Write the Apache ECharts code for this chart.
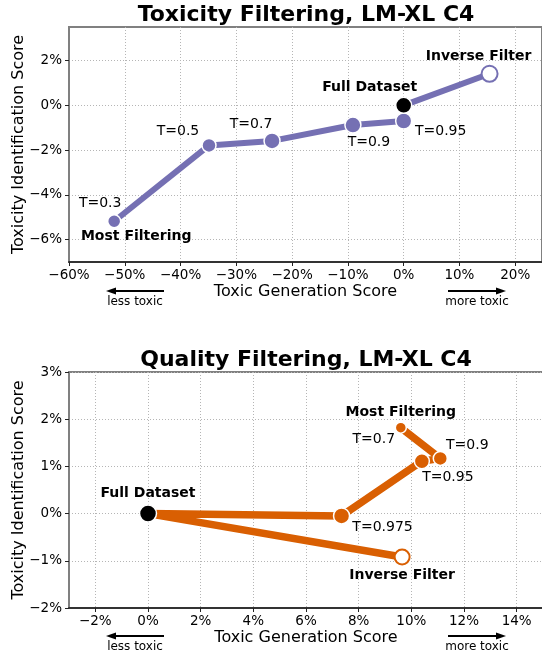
<!DOCTYPE html>
<html>
<head>
<meta charset="utf-8">
<script src="https://cdn.jsdelivr.net/npm/echarts@6/dist/echarts.min.js"></script>
<style>
html, body { margin: 0; padding: 0; background: #fff; }
#chart { width: 542px; height: 657px; }
</style>
</head>
<body>
<div id="chart"></div>
<script>
// top panel: toxicity filtering
var toxNames = ['T=0.3', 'T=0.5', 'T=0.7', 'T=0.9', 'T=0.95', 'Full Dataset', 'Inverse Filter'];
var toxX = [-51.9, -34.9, -23.6, -9.1, 0, 0, 15.4];
var toxY = [-5.18, -1.79, -1.59, -0.88, -0.70, 0, 1.41];
var toxXTicks = [-60, -50, -40, -30, -20, -10, 0, 10, 20];
var toxYTicks = [-6, -4, -2, 0, 2];

// bottom panel: quality filtering
var qualNames = ['T=0.7', 'T=0.9', 'T=0.95', 'T=0.975', 'Full Dataset', 'Inverse Filter'];
var qualX = [9.6, 11.1, 10.4, 7.35, 0, 9.65];
var qualY = [1.82, 1.17, 1.11, -0.05, 0, -0.92];
var qualXTicks = [-2, 0, 2, 4, 6, 8, 10, 12, 14];
var qualYTicks = [-2, -1, 0, 1, 2, 3];

var FONT = 'DejaVu Sans';
var PURPLE = '#7570b3';
var ORANGE = '#d95f02';

// label offsets / marker sizes (layout only)
var toxOff = [[-14, -18], [-31, -14], [-21, -17], [16, 17], [37, 10], [-34, -18], [-11, -17]];
var toxSize = [13, 14, 16, 16, 16, 16, 16];
var qualOff = [[-27, 12], [27, -13], [26, 16], [41, 11], [0, -20], [0, 18]];
var qualSize = [11, 14, 15, 16, 17, 15];

function pct(v) {
  return (v < 0 ? '\u2212' : '') + Math.abs(v) + '%';
}

function labelStyle(text, off, bold) {
  return {
    show: true, position: 'inside', offset: off, formatter: text,
    color: '#000', fontFamily: FONT, fontSize: 14,
    fontWeight: bold ? 'bold' : 'normal',
    textBorderWidth: 0, opacity: 1
  };
}

function buildPoints(xs, ys, names, color, sizes, offs) {
  return xs.map(function (x, i) {
    var n = names[i];
    var bold = (n === 'Full Dataset' || n === 'Inverse Filter');
    var fill = color, border = '#fff', bw = 1.5;
    if (n === 'Full Dataset') fill = '#000';
    if (n === 'Inverse Filter') { fill = '#fff'; border = color; bw = 2; }
    return {
      value: [x, ys[i]],
      name: n,
      symbolSize: sizes[i],
      itemStyle: { color: fill, borderColor: border, borderWidth: bw, opacity: 1 },
      label: labelStyle(n, offs[i], bold)
    };
  });
}

function noteSeries(idx, x, y, off) {
  return {
    type: 'scatter', xAxisIndex: idx, yAxisIndex: idx, z: 5,
    symbolSize: 1, itemStyle: { color: 'rgba(255,255,255,0)' },
    data: [{ value: [x, y], label: labelStyle('Most Filtering', off, true) }],
    silent: true
  };
}

function xAxisOf(idx, min, max, ticks) {
  return {
    type: 'value', gridIndex: idx, min: min, max: max,
    name: 'Toxic Generation Score', nameLocation: 'middle', nameGap: 22, nameMoveOverlap: false,
    nameTextStyle: { fontFamily: FONT, fontSize: 16, color: '#000' },
    axisLine: { show: true, onZero: false, lineStyle: { color: '#333', width: 2 } },
    axisTick: { show: true, length: 4, customValues: ticks, lineStyle: { color: '#222' } },
    axisLabel: { customValues: ticks, formatter: pct, margin: 6, fontFamily: FONT, fontSize: 13.5, color: '#000' },
    splitLine: { show: true, lineStyle: { color: '#b5b5b5', type: [1, 2], width: 1 } }
  };
}

function yAxisOf(idx, min, max, ticks) {
  return {
    type: 'value', gridIndex: idx, min: min, max: max,
    name: 'Toxicity Identification Score', nameLocation: 'middle', nameGap: 42, nameMoveOverlap: false,
    nameTextStyle: { fontFamily: FONT, fontSize: 16, color: '#000' },
    axisLine: { show: true, onZero: false, lineStyle: { color: '#808080', width: 2 } },
    axisTick: { show: true, length: 4, customValues: ticks, lineStyle: { color: '#222' } },
    axisLabel: { customValues: ticks, formatter: pct, margin: 7, fontFamily: FONT, fontSize: 13.5, color: '#000' },
    splitLine: { show: true, lineStyle: { color: '#b5b5b5', type: [1, 2], width: 1 } }
  };
}

function arrow(x1, x2, y, left) {
  var tip = left ? x1 : x2;
  var dir = left ? 1 : -1;
  return [
    { type: 'line', shape: { x1: x1 + (left ? 6 : 0), y1: y, x2: x2 - (left ? 0 : 6), y2: y },
      style: { stroke: '#000', lineWidth: 2 } },
    { type: 'polygon', shape: { points: [[tip, y], [tip + dir * 10, y - 3.5], [tip + dir * 10, y + 3.5]] },
      style: { fill: '#000' } }
  ];
}

function txt(x, y, s, size, weight) {
  return { type: 'text', x: x, y: y,
    style: { text: s, font: (weight || 'normal') + ' ' + size + 'px "' + FONT + '"',
      fill: '#000', align: 'center', verticalAlign: 'middle' } };
}

var graphics = [
  txt(306, 15, 'Toxicity Filtering, LM-XL C4', 22, 'bold'),
  txt(306, 360, 'Quality Filtering, LM-XL C4', 22, 'bold'),
  txt(135, 302, 'less toxic', 12),
  txt(477, 302, 'more toxic', 12),
  txt(135, 647, 'less toxic', 12),
  txt(477, 647, 'more toxic', 12)
].concat(arrow(106, 164, 291, true), arrow(448, 506, 291, false),
         arrow(106, 164, 636, true), arrow(448, 506, 636, false));

var chart = echarts.init(document.getElementById('chart'), null, { renderer: 'canvas' });
chart.setOption({
  animation: false,
  backgroundColor: '#fff',
  textStyle: { fontFamily: FONT },
  graphic: graphics,
  grid: [
    { left: 69, right: 0, top: 27, height: 235, show: true, borderColor: '#808080', borderWidth: 2,
      containLabel: false, outerBoundsMode: 'none' },
    { left: 69, right: -1, top: 372, height: 236, show: true, borderColor: '#808080', borderWidth: 2,
      containLabel: false, outerBoundsMode: 'none' }
  ],
  xAxis: [xAxisOf(0, -60, 24.8, toxXTicks), xAxisOf(1, -3, 15, qualXTicks)],
  yAxis: [yAxisOf(0, -7, 3.5, toxYTicks), yAxisOf(1, -2, 3, qualYTicks)],
  series: [
    {
      type: 'line', xAxisIndex: 0, yAxisIndex: 0, z: 3,
      symbol: 'circle', showSymbol: true,
      lineStyle: { color: PURPLE, width: 6 },
      itemStyle: { color: PURPLE },
      data: buildPoints(toxX, toxY, toxNames, PURPLE, toxSize, toxOff)
    },
    noteSeries(0, toxX[0], toxY[0], [22, 15]),
    {
      type: 'line', xAxisIndex: 1, yAxisIndex: 1, z: 3,
      symbol: 'circle', showSymbol: true,
      lineStyle: { color: ORANGE, width: 7.5 },
      itemStyle: { color: ORANGE },
      data: buildPoints(qualX, qualY, qualNames, ORANGE, qualSize, qualOff)
    },
    noteSeries(1, qualX[0], qualY[0], [0, -15])
  ]
});
</script>
</body>
</html>
